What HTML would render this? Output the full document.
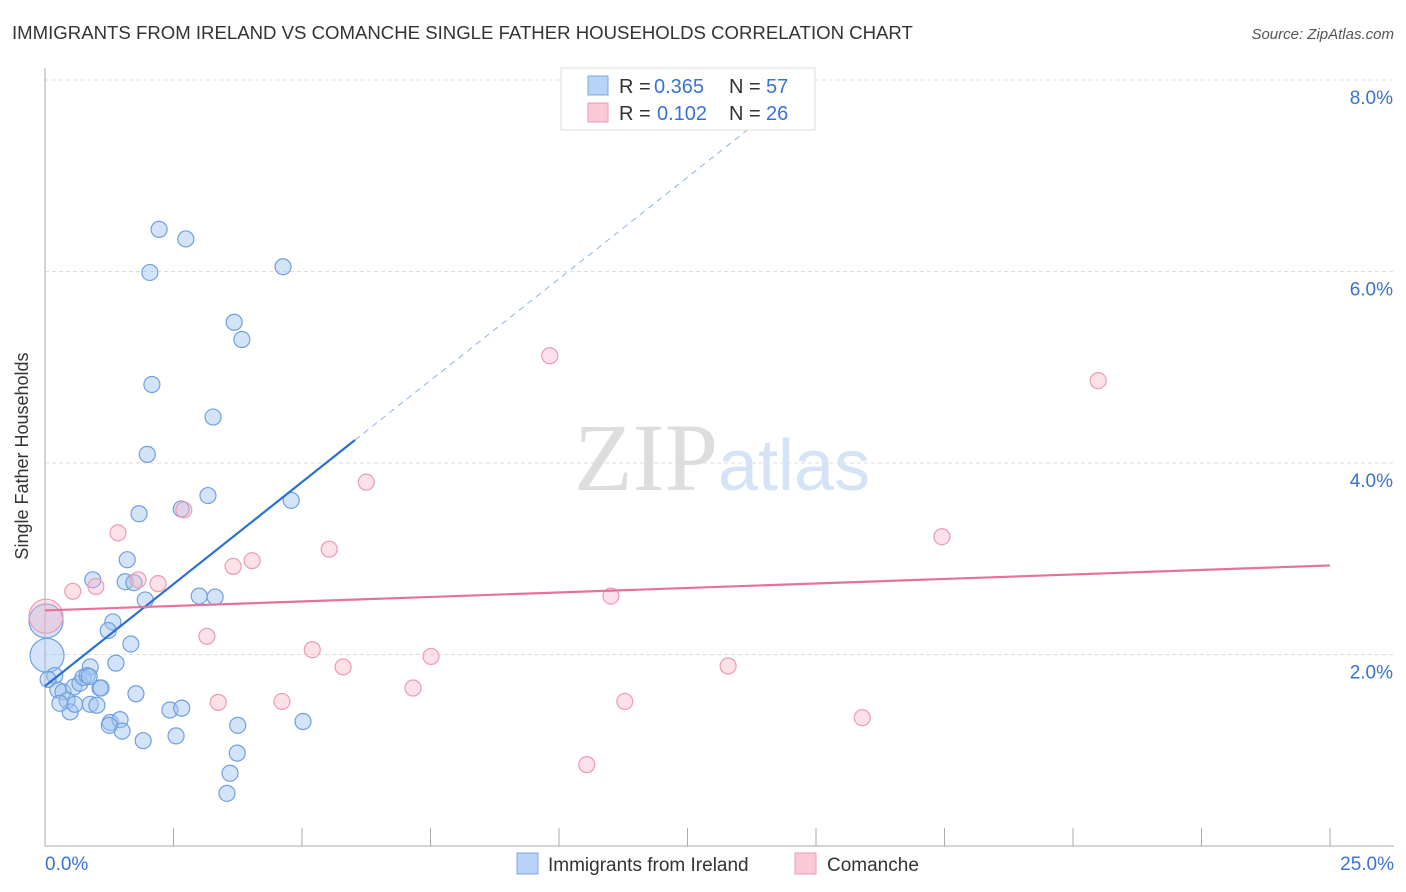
<!DOCTYPE html>
<html><head><meta charset="utf-8"><style>
body{margin:0;background:#fff;font-family:"Liberation Sans",sans-serif;}
svg{display:block}
</style></head><body>
<svg id="c" width="1406" height="892" xmlns="http://www.w3.org/2000/svg">
<text x="12" y="39" font-size="18.6" fill="#333">IMMIGRANTS FROM IRELAND VS COMANCHE SINGLE FATHER HOUSEHOLDS CORRELATION CHART</text>
<text x="1394" y="39" font-size="15" fill="#555" font-style="italic" text-anchor="end">Source: ZipAtlas.com</text>
<g id="grid"></g>
<text x="718" y="490" font-size="96" fill="#ddd" font-family="Liberation Serif,serif" text-anchor="end">ZIP</text>
<text x="718" y="490" font-size="72" fill="#d4e3f5">atlas</text>
<g id="axes"></g>
<g id="pts"></g>
<g id="trend"></g>
<text x="28" y="456" font-size="18" fill="#333" text-anchor="middle" transform="rotate(-90 28 456)">Single Father Households</text>
<g>
<rect x="561" y="68" width="254" height="62" fill="#fff" stroke="#ddd"/>
<rect x="588" y="76" width="20" height="19" fill="#b8d3f5" stroke="#7aa8e6"/>
<text x="619" y="93" font-size="20" fill="#333">R =</text>
<text x="654" y="93" font-size="20" fill="#3a72d0">0.365</text>
<text x="729" y="93" font-size="20" fill="#333">N =</text>
<text x="766" y="93" font-size="20" fill="#3a72d0">57</text>
<rect x="588" y="103" width="20" height="19" fill="#f9c9d6" stroke="#ee9ab2"/>
<text x="619" y="120" font-size="20" fill="#333">R =</text>
<text x="657" y="120" font-size="20" fill="#3a72d0">0.102</text>
<text x="729" y="120" font-size="20" fill="#333">N =</text>
<text x="766" y="120" font-size="20" fill="#3a72d0">26</text>
</g>
<g>
<rect x="517" y="853" width="21" height="21" fill="#b8d3f5" stroke="#7aa8e6"/>
<text x="548" y="871" font-size="19" fill="#333">Immigrants from Ireland</text>
<rect x="795" y="853" width="21" height="21" fill="#f9c9d6" stroke="#ee9ab2"/>
<text x="827" y="871" font-size="19" fill="#333">Comanche</text>
</g>
</svg>
<script>
const yTicks=[2,4,6,8];
const yTickLabels=["2.0%","4.0%","6.0%","8.0%"];
const xTicks=[0,2.5,5,7.5,10,12.5,15,17.5,20,22.5,25];
const irelandX=[2.22,2.74,2.04,4.63,3.68,3.83,2.08,3.27,1.99,3.17,4.79,2.65,1.83,1.60,0.93,1.56,1.73,1.95,3.0,3.31,1.32,1.23,1.67,1.38,0.88,0.04,0.02,0.19,0.25,0.35,0.56,0.68,0.74,0.82,0.86,1.07,1.09,0.43,0.49,0.58,0.88,1.01,1.27,1.46,1.50,1.77,2.43,2.66,2.55,1.91,3.75,3.74,3.60,3.54,5.02,0.06,0.29,1.25];
const irelandY=[6.44,6.34,5.99,6.05,5.47,5.29,4.82,4.48,4.09,3.66,3.61,3.52,3.47,2.99,2.78,2.76,2.75,2.57,2.61,2.60,2.34,2.25,2.11,1.91,1.87,1.99,2.35,1.78,1.63,1.61,1.66,1.70,1.76,1.78,1.77,1.65,1.65,1.52,1.40,1.48,1.48,1.47,1.29,1.32,1.20,1.59,1.42,1.44,1.15,1.10,1.26,0.97,0.76,0.55,1.30,1.74,1.49,1.26];
const irelandR=[8,8,8,8,8,8,8,8,8,8,8,8,8,8,8,8,8,8,8,8,8,8,8,8,8,17,17,8,8,8,8,8,8,8,8,8,8,8,8,8,8,8,8,8,8,8,8,8,8,8,8,8,8,8,8,8,8,8];
const comX=[9.82,20.49,6.25,2.70,1.42,5.53,4.03,3.66,17.45,0.54,0.99,2.20,1.81,11.01,3.15,5.20,7.51,5.80,13.29,7.16,3.37,4.61,11.28,15.9,10.54,0.02];
const comY=[5.12,4.86,3.80,3.51,3.27,3.10,2.98,2.92,3.23,2.66,2.71,2.74,2.78,2.61,2.19,2.05,1.98,1.87,1.88,1.65,1.50,1.51,1.51,1.34,0.85,2.40];
const comR=[8,8,8,8,8,8,8,8,8,8,8,8,8,8,8,8,8,8,8,8,8,8,8,8,8,17];
const irelandTrend=[[0,1.67],[6.03,4.24]];
const irelandTrendExt=[[6.03,4.24],[14.8,7.96]];
const comTrend=[[0,2.46],[25,2.93]];
const X=v=>45+v*51.4, Y=v=>846-v*95.75;
const NS="http://www.w3.org/2000/svg";
function mk(t,a,p){const e=document.createElementNS(NS,t);for(const k in a)e.setAttribute(k,a[k]);p.appendChild(e);return e;}
const grid=document.getElementById('grid'),axes=document.getElementById('axes'),pts=document.getElementById('pts'),tr=document.getElementById('trend');
yTicks.forEach((v,i)=>{
 const l=mk('line',{x1:45,x2:1394,y1:Y(v),y2:Y(v),stroke:'#ddd','stroke-dasharray':'4,3'},grid);
 
 
 const t=mk('text',{x:1393,y:Y(v)+24,'font-size':19,fill:'#3a72d0','text-anchor':'end'},axes);
 t.textContent=yTickLabels[i];
 
 
});
const ax=mk('line',{x1:45,x2:45,y1:68,y2:846,stroke:'#aaa'},axes);


const bx=mk('line',{x1:45,x2:1394,y1:846,y2:846,stroke:'#aaa'},axes);


xTicks.forEach(v=>{const t=mk('line',{x1:X(v),x2:X(v),y1:828,y2:846,stroke:'#aaa'},axes);
 
 });
[[0,"0.0%",'start',45],[25,"25.0%",'end',1394]].forEach(d=>{const t=mk('text',{x:d[3],y:870,'font-size':19,fill:'#3a72d0','text-anchor':d[2]},axes);t.textContent=d[1];
 
 });
irelandX.forEach((v,i)=>{const c=mk('circle',{cx:X(v),cy:Y(irelandY[i]),r:irelandR[i],fill:'rgba(160,196,240,0.45)',stroke:'#6f9fe0','stroke-width':1.2},pts);
 
 });
comX.forEach((v,i)=>{const c=mk('circle',{cx:X(v),cy:Y(comY[i]),r:comR[i],fill:'rgba(247,180,200,0.4)',stroke:'#ee9ab2','stroke-width':1.2},pts);
 
 });
const l1=mk('line',{x1:X(irelandTrend[0][0]),y1:Y(irelandTrend[0][1]),x2:X(irelandTrend[1][0]),y2:Y(irelandTrend[1][1]),stroke:'#2a6fd6','stroke-width':2.2},tr);


const l2=mk('line',{x1:X(irelandTrendExt[0][0]),y1:Y(irelandTrendExt[0][1]),x2:X(irelandTrendExt[1][0]),y2:Y(irelandTrendExt[1][1]),stroke:'#8fb3e6','stroke-width':1,'stroke-dasharray':'6,5'},tr);


const l3=mk('line',{x1:X(comTrend[0][0]),y1:Y(comTrend[0][1]),x2:X(comTrend[1][0]),y2:Y(comTrend[1][1]),stroke:'#e8719a','stroke-width':2.2},tr);


</script>
</body></html>
